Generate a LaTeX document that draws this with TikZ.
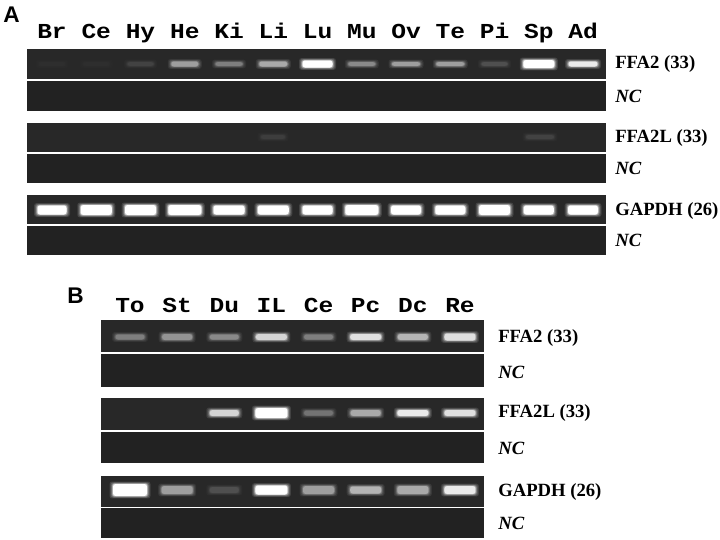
\documentclass[tikz,border=0pt]{standalone}
\usepackage{fontspec}
\setmainfont{Liberation Serif}
\newfontfamily\lanefont[FakeStretch=1.15]{Liberation Mono}
\newfontfamily\panelfont{Liberation Sans}

\definecolor{gelbg}{RGB}{40,40,40}
\definecolor{ncbg}{RGB}{34,34,34}

% gel strip with its NC strip below: left, right, top, split, bottom
\newcommand{\gelpair}[5]{%
  \fill[gelbg] (#1,#3) rectangle (#2,#4-0.8);
  \fill[ncbg] (#1,#4+0.8) rectangle (#2,#5);}
% one band: x, y, width, height, level (0..100)
\newcommand{\band}[5]{%
  \foreach \grow/\part in {3.5/0.12,2.5/0.25,1.5/0.45,0.7/0.7}{%
    \pgfmathsetmacro{\halo}{#5*\part}
    \fill[white!\halo!gelbg, rounded corners=2pt]
      (#1-#3/2-\grow,#2-#4/2-\grow*0.7) rectangle (#1+#3/2+\grow,#2+#4/2+\grow*0.7);}
  \fill[white!#5!gelbg, rounded corners=2pt] (#1-#3/2,#2-#4/2) rectangle (#1+#3/2,#2+#4/2);}

\begin{document}
\begin{tikzpicture}[x=0.75pt,y=-0.75pt,
  lane/.style={font=\lanefont\bfseries\fontsize{16}{17}\selectfont, inner sep=0pt, anchor=base},
  gene/.style={font=\bfseries\fontsize{14}{15}\selectfont, anchor=west, inner sep=0pt},
  ctrl/.style={font=\bfseries\itshape\fontsize{14}{15}\selectfont, anchor=west, inner sep=0pt},
  panel/.style={font=\panelfont\bfseries\fontsize{17}{18}\selectfont, inner sep=0pt}]
\useasboundingbox (0,0) rectangle (720,539);

% panel A
\node[panel] (pA) at (11.5,15) {A};
\foreach \name [count=\i from 0] in {Br,Ce,Hy,He,Ki,Li,Lu,Mu,Ov,Te,Pi,Sp,Ad}
  \node[lane] (a-\name) at (52+44.25*\i,38.5) {\name};
\gelpair{27}{606}{49}{80}{111}
\gelpair{27}{606}{123}{153}{183}
\gelpair{27}{606}{195}{225}{255}
\foreach \lv/\w/\h [count=\i from 0] in {3/26/4,3/26/4,12/26/4,55/27/5,40/27/4,60/28/5,100/30/7,45/27/4,55/28/4,55/28/4,18/26/4,100/31/8,90/29/5}
  \band{52+44.25*\i}{64}{\w}{\h}{\lv};
\band{273}{137}{24}{4}{10}
\band{540}{137}{28}{4}{12}
\foreach \lv/\w/\h [count=\i from 0] in {100/29/9,100/31/10,100/31/10,100/33/10,100/31/9,100/31/9,100/30/9,100/33/10,100/30/9,100/30/9,100/31/10,100/30/9,100/30/9}
  \band{52+44.25*\i}{210}{\w}{\h}{\lv};
\node[gene] (a-ffa2) at (615,64) {FFA2 (33)};
\node[ctrl] (a-nc1) at (615,96) {NC};
\node[gene] (a-ffa2l) at (615,138) {FFA2L (33)};
\node[ctrl] (a-nc2) at (615,168) {NC};
\node[gene] (a-gapdh) at (615,211) {GAPDH (26)};
\node[ctrl] (a-nc3) at (615,240) {NC};

% panel B
\node[panel] (pB) at (75.5,296) {B};
\foreach \name [count=\i from 0] in {To,St,Du,IL,Ce,Pc,Dc,Re}
  \node[lane] (b-\name) at (130+47.14*\i,312.5) {\name};
\gelpair{101}{484}{320}{353}{387}
\gelpair{101}{484}{398}{431}{463}
\gelpair{101}{484}{476}{507.5}{538}
\foreach \lv/\w/\h [count=\i from 0] in {40/29/5,50/30/6,45/29/5,80/31/6,40/29/5,85/31/6,65/30/6,85/31/7}
  \band{130+47.14*\i}{337}{\w}{\h}{\lv};
\foreach \lv/\w/\h [count=\i from 0] in {0/28/4,0/28/4,80/29/6,100/32/10,35/29/5,60/30/6,90/31/6,85/31/6}
  \band{130+47.14*\i}{413}{\w}{\h}{\lv};
\foreach \lv/\w/\h [count=\i from 0] in {100/34/12,55/31/8,18/29/6,100/32/9,55/31/8,65/31/7,60/31/8,90/31/8}
  \band{130+47.14*\i}{490}{\w}{\h}{\lv};
\node[gene] (b-ffa2) at (498,338) {FFA2 (33)};
\node[ctrl] (b-nc1) at (498,372) {NC};
\node[gene] (b-ffa2l) at (498,413) {FFA2L (33)};
\node[ctrl] (b-nc2) at (498,448) {NC};
\node[gene] (b-gapdh) at (498,492) {GAPDH (26)};
\node[ctrl] (b-nc3) at (498,523) {NC};
\end{tikzpicture}
\end{document}
